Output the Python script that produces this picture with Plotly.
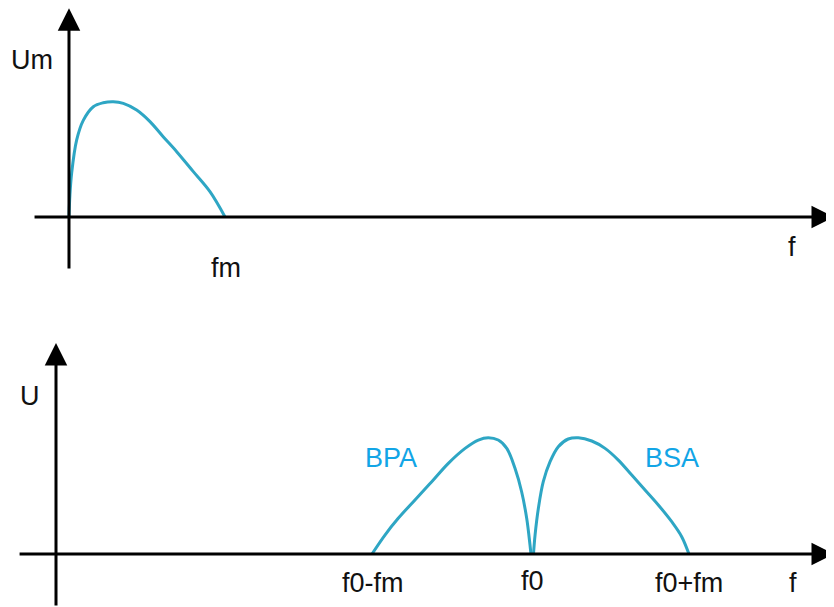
import plotly.graph_objects as go

# ---- data (frequency in units of fm, amplitude normalised to peak = 1) ----
base_f = [0.0, 0.006, 0.017, 0.049, 0.091, 0.155, 0.218, 0.282, 0.346, 0.431,
          0.516, 0.600, 0.686, 0.792, 0.898, 0.994]
base_u = [0.0, 0.19, 0.379, 0.664, 0.833, 0.951, 0.985, 0.994, 0.980, 0.922,
          0.822, 0.692, 0.563, 0.391, 0.218, 0.0]

bpa_f = [2.0, 2.082, 2.166, 2.272, 2.378, 2.483, 2.589, 2.673, 2.736, 2.799,
         2.853, 2.905, 2.947, 2.979, 3.0, 3.006]
bpa_u = [0.0, 0.162, 0.305, 0.462, 0.618, 0.775, 0.903, 0.974, 0.994, 0.974,
         0.903, 0.732, 0.532, 0.305, 0.077, 0.0]

bsa_f = [3.022, 3.032, 3.053, 3.084, 3.127, 3.179, 3.242, 3.306, 3.391, 3.475,
         3.559, 3.644, 3.728, 3.812, 3.897, 3.960, 4.006]
bsa_u = [0.0, 0.162, 0.391, 0.618, 0.789, 0.917, 0.983, 0.994, 0.966, 0.903,
         0.803, 0.675, 0.547, 0.419, 0.276, 0.148, 0.0]

top_labels = {"fm": 1.0, "f": 4.605}
bottom_labels = {"f0-fm": 2.005, "f0": 3.013, "f0+fm": 4.006, "f": 4.665}
band_labels = {"BPA": 2.12, "BSA": 3.9}

# ---- styles ----
CURVE = "#2ea6c4"
LABEL_BLUE = "#12a5e6"
FONT = "Liberation Sans, Arial, sans-serif"
FS = 27
# page has an 8px body margin: canvas is 826x599, shifted by (8, 8)
TOP_DOMAIN = [0.5125, 1.0]
BOT_DOMAIN = [0.0, 0.5125]

fig = go.Figure()
for xs, ys, xa, ya in [(base_f, base_u, "x", "y"),
                       (bpa_f, bpa_u, "x2", "y2"),
                       (bsa_f, bsa_u, "x2", "y2")]:
    fig.add_trace(go.Scatter(x=xs, y=ys, mode="lines", xaxis=xa, yaxis=ya,
                             line=dict(color=CURVE, width=3, shape="spline", smoothing=1.0),
                             hoverinfo="skip", cliponaxis=False))

annotations = []

def axis_arrow(xref, yref, x_tail, y_tail, x_tip, y_tip):
    annotations.append(dict(
        x=x_tip, y=y_tip, ax=x_tail, ay=y_tail,
        xref=xref, yref=yref, axref=xref, ayref=yref,
        text="", showarrow=True, arrowhead=2, arrowsize=1.5, arrowwidth=3,
        arrowcolor="#000000", standoff=0, startstandoff=0))

# top panel axes
axis_arrow("x", "y", 0.0, -0.457, 0.0, 1.80)
axis_arrow("x", "y", -0.229, 0.0, 4.873, 0.0)
# bottom panel axes
axis_arrow("x2", "y2", 0.0, -0.453, 0.0, 1.803)
axis_arrow("x2", "y2", -0.24, 0.0, 4.924, 0.0)

def text(xref, yref, x, y, s, color="#111111", size=FS):
    annotations.append(dict(x=x, y=y, xref=xref, yref=yref, text=s, showarrow=False,
                            font=dict(family=FONT, size=size, color=color),
                            xanchor="center", yanchor="middle"))

text("x", "y", -0.236, 1.353, "Um")
for s, fx in top_labels.items():
    text("x", "y", fx, -0.44 if s == "fm" else -0.259, s)
text("x2", "y2", -0.165, 1.35, "U")
for s, fx in bottom_labels.items():
    text("x2", "y2", fx, -0.231 if s == "f0" else -0.248, s)
for s, fx in band_labels.items():
    text("x2", "y2", fx, 0.82, s, color=LABEL_BLUE)

hidden = dict(visible=False, showgrid=False, zeroline=False, fixedrange=True)
fig.update_layout(
    width=826, height=599,
    margin=dict(l=0, r=0, t=0, b=0),
    paper_bgcolor="white", plot_bgcolor="white",
    showlegend=False,
    xaxis=dict(domain=[0, 1], range=[-0.3885, 4.873], anchor="y", **hidden),
    yaxis=dict(domain=TOP_DOMAIN, range=[-0.716, 1.802], anchor="x", **hidden),
    xaxis2=dict(domain=[0, 1], range=[-0.3038, 4.924], anchor="y2", **hidden),
    yaxis2=dict(domain=BOT_DOMAIN, range=[-0.453, 2.171], anchor="x2", **hidden),
    annotations=annotations,
)

fig.write_html("out.html")
